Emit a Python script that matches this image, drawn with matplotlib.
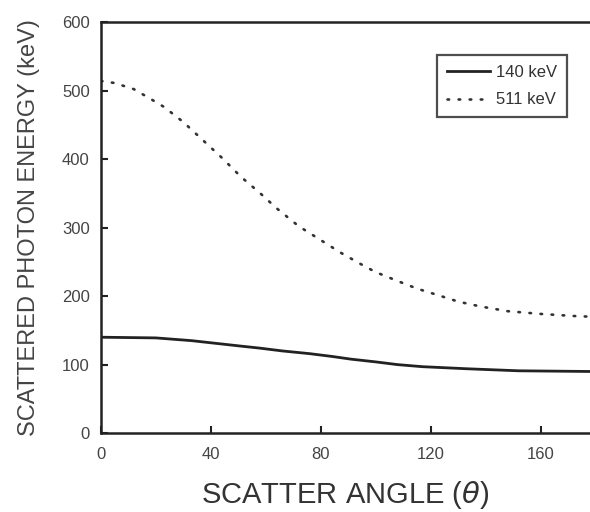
import matplotlib
matplotlib.use("Agg")
import matplotlib.pyplot as plt

# 140 keV curve
theta_140 = [0, 20, 33, 42, 51, 58, 66, 76, 84, 91, 100, 108, 117, 133, 152, 178]
energy_140 = [140, 139, 135, 131, 127, 124, 120, 116, 112, 108, 104, 100, 97, 94, 91, 90]

# 511 keV curve
theta_511 = [0, 5, 12, 18, 23, 30, 37, 44, 51, 58, 64, 72, 87, 94, 100, 108, 115,
             123, 130, 138, 148, 160, 172, 178]
energy_511 = [514, 511, 502, 488, 476, 454, 428, 402, 374, 350, 328, 302, 264, 248,
              235, 222, 211, 201, 192, 185, 178, 174, 171, 170]

xticks = [0, 40, 80, 120, 160]
yticks = [0, 100, 200, 300, 400, 500, 600]

plt.rcParams['font.family'] = ['Liberation Sans', 'DejaVu Sans']

fig = plt.figure(figsize=(5.9, 5.12), dpi=100)
ax = fig.add_axes([0.171, 0.154, 0.829, 0.803])

ax.plot(theta_140, energy_140, color='#222222', lw=2.0, label='140 keV')
ax.plot(theta_511, energy_511, color='#333333', lw=1.9, linestyle=(0, (0.6, 3.6)),
        dash_capstyle='round', label='511 keV')

ax.set_xlim(0, 178)
ax.set_ylim(0, 600)
ax.set_xticks(xticks)
ax.set_yticks(yticks)
ax.tick_params(direction='in', length=5, width=1.5, labelsize=12,
               labelcolor='#444444', color='#222222')
ax.tick_params(axis='x', pad=10)
ax.tick_params(axis='y', pad=8)

for side in ['left', 'top', 'bottom']:
    ax.spines[side].set_linewidth(1.8)
    ax.spines[side].set_color('#222222')
ax.spines['right'].set_visible(False)

ax.set_xlabel('SCATTER ANGLE ($\\theta$)', fontsize=21, color='#333333', labelpad=12)
ax.set_ylabel('SCATTERED PHOTON ENERGY (keV)', fontsize=17, color='#444444', labelpad=16)

leg = ax.legend(loc='upper right', bbox_to_anchor=(0.953, 0.92), borderaxespad=0,
                fontsize=12, frameon=True, fancybox=False, handlelength=2.6,
                handletextpad=0.35, borderpad=0.6, labelspacing=0.75,
                labelcolor='#333333')
leg.get_frame().set_edgecolor('#222222')
leg.get_frame().set_linewidth(1.6)

fig.savefig('out.png', dpi=100)
